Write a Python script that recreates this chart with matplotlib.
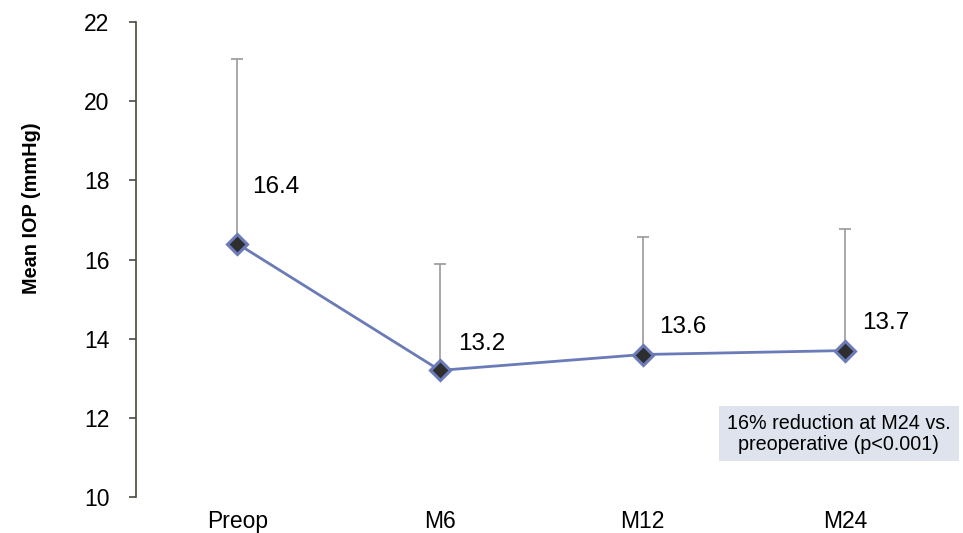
import matplotlib.pyplot as plt

# data
visits = ["Preop", "M6", "M12", "M24"]
mean_iop = [16.4, 13.2, 13.6, 13.7]
sd_iop = [4.67, 2.69, 2.97, 3.07]
y_ticks = [10, 12, 14, 16, 18, 20, 22]
note = "16% reduction at M24 vs.\npreoperative (p<0.001)"

plt.rcParams['font.family'] = ['Liberation Sans', 'DejaVu Sans']

fig = plt.figure(figsize=(9.63, 5.33), dpi=100)
ax = fig.add_axes([0.1412, 0.0675, 0.8418, 0.8912])

x = list(range(len(visits)))

# upper-only error bars
ax.errorbar(x, mean_iop, yerr=[[0] * len(sd_iop), sd_iop], fmt='none',
            ecolor='#9a9a9a', elinewidth=1.2, capsize=4, capthick=1.2, zorder=1)

# mean line
ax.plot(x, mean_iop, color='#6b7ab8', linewidth=2, marker='D', markersize=10,
        markerfacecolor='#2e2e2e', markeredgecolor='#6b7ab8', markeredgewidth=2.2,
        zorder=3)

# value labels
offsets = [(11, 41), (13, 19), (12, 20), (12, 20)]
for xi, yi, off in zip(x, mean_iop, offsets):
    ax.annotate(f"{yi:.1f}", (xi, yi), xytext=off, textcoords='offset points',
                fontsize=17.5, ha='left', va='center')

ax.text(0.867, 0.133, note, transform=ax.transAxes, fontsize=14.2, ha='center', va='center',
        linespacing=1.1,
        bbox=dict(boxstyle='square,pad=0.4', facecolor='#dfe3ee', edgecolor='none'))

ax.set_xlim(-0.5, 3.5)
ax.set_ylim(10, 22)
ax.set_yticks(y_ticks)
ax.set_xticks(x)
ax.set_xticklabels(visits)
ax.tick_params(axis='y', labelsize=16.5, length=5, width=1.2, color='#4a4a40', pad=14)
ax.tick_params(axis='x', labelsize=16.5, length=0, pad=9)
ax.set_ylabel("Mean IOP (mmHg)", fontsize=14.3, fontweight='bold', labelpad=31, y=0.608)

for s in ['top', 'right', 'bottom']:
    ax.spines[s].set_visible(False)
ax.spines['left'].set_color('#4a4a40')
ax.spines['left'].set_linewidth(1.2)

plt.savefig("out.png", dpi=100)
plt.close()
